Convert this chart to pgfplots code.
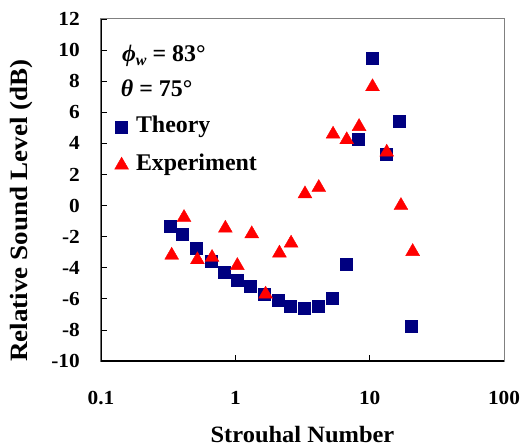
\documentclass[border=0pt]{standalone}
\usepackage{pgfplots}
\pgfplotsset{compat=1.18}
\usepackage{fontspec}
\setmainfont{Liberation Serif}
\definecolor{navy}{RGB}{0,0,128}
\newcommand{\wide}[1]{\scalebox{1.07}[1]{#1}}
\begin{document}
\begin{tikzpicture}
\useasboundingbox (-101bp,-87bp) rectangle (422bp,361bp);
\begin{axis}[
    scale only axis,
    width=403bp, height=342bp,
    xmode=log,
    xmin=0.1, xmax=100,
    ymin=-10, ymax=12,
    xtick={0.1,1,10,100},
    xticklabels={\wide{0.1},\wide{1},\wide{10},\wide{100}},
    xminorticks=false,
    ytick={-10,-8,...,12},
    yticklabels={\wide{-10},\wide{-8},\wide{-6},\wide{-4},\wide{-2},\wide{0},\wide{2},\wide{4},\wide{6},\wide{8},\wide{10},\wide{12}},
    tick align=inside,
    xtick pos=bottom, ytick pos=left,
    major tick length=6bp,
    tick style={black, line width=0.8bp},
    axis line style={gray, line width=1bp},
    xticklabel style={font=\bfseries\fontsize{20}{24}\selectfont, anchor=center, yshift=-37bp},
    yticklabel style={font=\bfseries\fontsize{20}{24}\selectfont, anchor=east, inner sep=0pt, xshift=-21bp},
    xlabel={\scalebox{1.045}[1]{Strouhal Number}},
    ylabel={\scalebox{1.085}[1]{Relative Sound Level (dB)}},
    every axis x label/.style={at={(axis description cs:0.5,-0.216)}, anchor=center, font=\bfseries\fontsize{23.5}{27}\selectfont},
    every axis y label/.style={at={(axis description cs:-0.196,0.44)}, anchor=center, rotate=90, font=\bfseries\fontsize{25}{29}\selectfont},
    legend style={draw=none, fill=none, at={(rel axis cs:0.0335,0.715)}, anchor=north west,
        inner sep=0pt, column sep=7.5bp, row sep=17bp,
        font=\bfseries\fontsize{24}{28}\selectfont,
        nodes={inner sep=0pt, text height=16bp, text depth=5bp}},
    legend cell align=left,
]
\addplot[only marks, mark=square*, mark size=6bp, color=navy] coordinates {
    (0.327,-1.36) (0.405,-1.83) (0.515,-2.75) (0.657,-3.6) (0.828,-4.29)
    (1.024,-4.78) (1.30,-5.17) (1.64,-5.68) (2.09,-6.07) (2.55,-6.46)
    (3.25,-6.58) (4.11,-6.46) (5.25,-5.96) (6.64,-3.78) (8.20,4.26)
    (10.36,9.51) (13.2,3.30) (16.6,5.44) (20.5,-7.74)
};
\addlegendentry{Theory}
\addplot[only marks, mark=triangle*, mark size=8bp, color=red] coordinates {
    (0.336,-3.2) (0.415,-0.77) (0.522,-3.49) (0.671,-3.34) (0.843,-1.46)
    (1.035,-3.86) (1.325,-1.82) (1.68,-5.7) (2.13,-3.06) (2.60,-2.42)
    (3.30,0.75) (4.18,1.16) (5.34,4.59) (6.75,4.23) (8.34,5.08)
    (10.5,7.64) (13.4,3.43) (17.1,0.0) (20.9,-2.96)
};
\addlegendentry{Experiment}
\draw[black, line width=1.2bp] (rel axis cs:0,1) -- (rel axis cs:0,0) -- (rel axis cs:1,0);
\node[anchor=base west, inner sep=0pt, font=\bfseries\fontsize{24}{28}\selectfont]
    at (rel axis cs:0.052,0.875) {\textit{ϕ\raisebox{-4bp}{\fontsize{16}{18}\selectfont w}} = 83°};
\node[anchor=base west, inner sep=0pt, font=\bfseries\fontsize{24}{28}\selectfont]
    at (rel axis cs:0.049,0.773) {\textit{θ} = 75°};
\end{axis}
\end{tikzpicture}
\end{document}
